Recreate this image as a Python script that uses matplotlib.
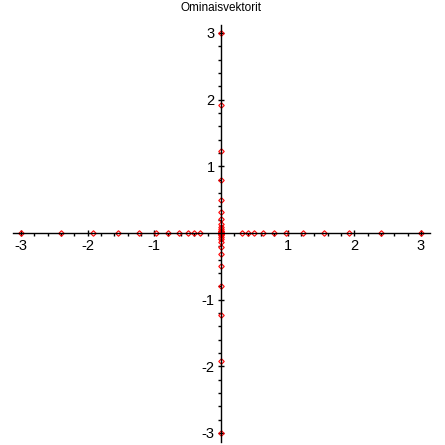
import matplotlib
matplotlib.use("Agg")
import matplotlib.pyplot as plt
from matplotlib.ticker import MultipleLocator, FixedLocator

plt.rcParams['font.family'] = ['Liberation Sans', 'DejaVu Sans']
plt.rcParams['axes.unicode_minus'] = False

# points lying on the x axis (y = 0)
x_pts = [-3.0, -2.4, -1.92, -1.54, -1.23, -0.98, -0.79, -0.63, -0.5, -0.4, -0.32,
         0.32, 0.4, 0.5, 0.63, 0.79, 0.98, 1.23, 1.54, 1.92, 2.4, 3.0]
# points lying on the y axis (x = 0)
y_pts = [3.0, 1.92, 1.23, 0.79, 0.5, 0.32, 0.21, 0.13, 0.085, 0.055, 0.035, 0.022, 0.014, 0.009,
         -0.009, -0.014, -0.022, -0.035, -0.055, -0.085, -0.13, -0.21, -0.32, -0.5, -0.79,
         -1.23, -1.92, -3.0]
tick_vals = [-3, -2, -1, 1, 2, 3]
tick_labels = ['-3', '-2', '-1', '1', '2', '3']

fig = plt.figure(figsize=(4.45, 4.45), dpi=100)
ax = fig.add_axes([13 / 445, 1 - 441.5 / 445, 417 / 445, 416.5 / 445])
ax.set_xlim(-3.12, 3.135)
ax.set_ylim(-3.13, 3.12)

for side in ['top', 'right']:
    ax.spines[side].set_visible(False)
ax.spines['left'].set_position(('data', 0))
ax.spines['bottom'].set_position(('data', 0))
for side in ['left', 'bottom']:
    ax.spines[side].set_linewidth(1.0)
    ax.spines[side].set_color('black')

ax.xaxis.set_major_locator(FixedLocator(tick_vals))
ax.yaxis.set_major_locator(FixedLocator(tick_vals))
ax.set_xticklabels(tick_labels)
ax.set_yticklabels(tick_labels)
ax.xaxis.set_minor_locator(MultipleLocator(0.2))
ax.yaxis.set_minor_locator(MultipleLocator(0.2))
ax.tick_params(which='major', direction='inout', length=5, width=1, labelsize=10.5, pad=2)
ax.tick_params(which='minor', direction='out', length=2.5, width=1)

ax.plot(x_pts, [0] * len(x_pts), linestyle='none', marker='D', markersize=2.8,
        markerfacecolor='none', markeredgecolor='red', markeredgewidth=0.8, clip_on=False)
ax.plot([0] * len(y_pts), y_pts, linestyle='none', marker='D', markersize=2.8,
        markerfacecolor='none', markeredgecolor='red', markeredgewidth=0.8, clip_on=False)

fig.text(221 / 445, 1 - 8 / 445, 'Ominaisvektorit', ha='center', va='center', fontsize=8.5)

fig.savefig('out.png', dpi=100)
